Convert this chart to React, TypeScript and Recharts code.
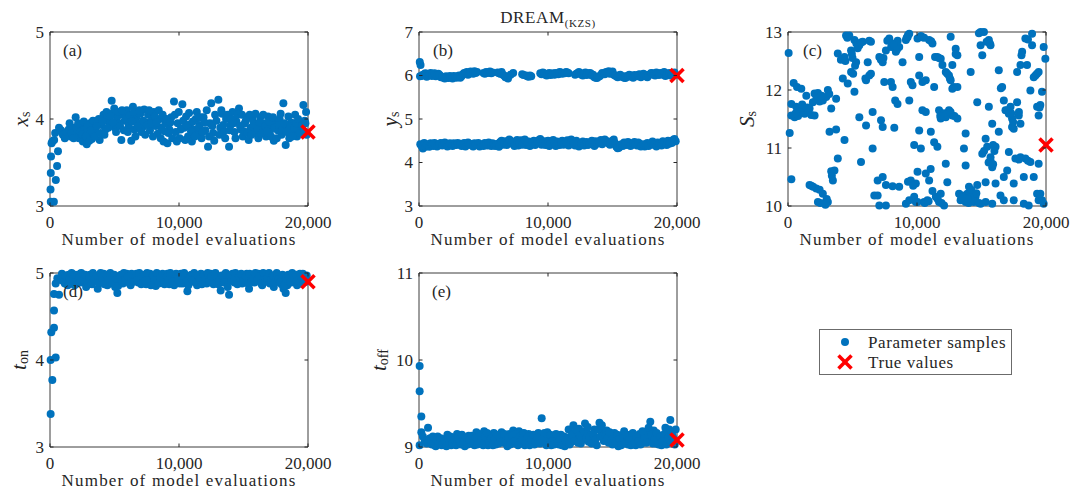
import React from "react";
import { ScatterChart, Scatter, XAxis, YAxis, ReferenceArea } from "recharts";

type Pair = [number, number];

// shared axis
const evalTicks = [0, 10000, 20000];

// (a) x_s
const xsTicks = [3, 4, 5];
const xsSamples: Pair[] = [
  [60, 3.05], [300, 3.05], [40, 3.19], [60, 3.38], [80, 3.57], [120, 3.72], [450, 3.3], [550, 3.46],
  [620, 3.63], [320, 3.76], [400, 3.84], [180, 3.74], [700, 3.9], [850, 3.87], [1000, 3.82], [1150, 3.78],
  [1300, 3.85], [1450, 3.88], [1600, 3.8], [1750, 3.9], [1900, 3.86], [1990, 4.02], [2100, 3.83], [2250, 3.78],
  [2400, 3.92], [2550, 3.74], [2700, 3.88], [2850, 3.71], [3000, 3.82], [3100, 3.95], [3250, 3.77], [3400, 3.9],
  [3550, 3.85], [3700, 3.97], [3850, 3.76], [4000, 3.93], [4150, 4.05], [4300, 3.88], [4450, 4.0], [4600, 3.95],
  [4780, 4.21], [4900, 4.07], [5050, 3.9], [5200, 4.02], [5350, 3.95], [5530, 3.76], [5650, 4.05], [5800, 3.98],
  [5950, 4.1], [6100, 3.92], [6300, 3.75], [6430, 4.14], [6550, 3.88], [6700, 4.02], [6850, 3.95], [7000, 4.06],
  [7150, 3.9], [7300, 4.11], [7450, 3.96], [7600, 4.05], [7750, 3.87], [7900, 3.99], [8050, 4.08], [8200, 3.92],
  [8350, 3.83], [8500, 4.0], [8650, 3.9], [8800, 3.74], [8950, 3.95], [9100, 3.72], [9250, 3.88], [9400, 4.02],
  [9610, 4.2], [9750, 3.85], [9900, 3.95], [10050, 3.78], [10260, 4.17], [10400, 3.9], [10550, 4.03], [10700, 3.8],
  [10850, 3.94], [11000, 3.74], [11150, 3.88], [11300, 4.0], [11450, 3.82], [11600, 3.93], [11750, 3.78], [11900, 4.02],
  [12050, 3.87], [12250, 3.68], [12400, 3.95], [12500, 4.18], [12650, 3.84], [12800, 4.05], [13050, 4.22], [13200, 3.9],
  [13350, 4.06], [13500, 3.86], [13650, 4.0], [13880, 3.68], [14000, 3.93], [14150, 4.08], [14300, 3.85], [14450, 3.97],
  [14650, 4.12], [14800, 3.88], [14950, 3.8], [15100, 3.95], [15250, 4.02], [15400, 3.76], [15550, 3.9], [15700, 4.0],
  [15850, 3.84], [16000, 3.93], [16150, 3.78], [16300, 4.02], [16450, 3.88], [16600, 3.95], [16750, 3.8], [16900, 4.03],
  [17050, 3.86], [17200, 3.92], [17350, 3.75], [17500, 3.95], [17650, 3.87], [17800, 4.0], [17950, 3.82], [18090, 4.18],
  [18270, 3.7], [18400, 3.9], [18550, 3.78], [18700, 3.96], [18850, 3.85], [19000, 4.05], [19150, 3.8], [19300, 3.93],
  [19450, 3.87], [19640, 4.16], [19750, 3.98], [19850, 4.08], [19900, 3.82],
  [1520, 3.95], [1680, 3.84], [1830, 3.78], [2020, 3.9], [2180, 3.95], [2330, 3.85], [2480, 3.82], [2620, 3.97],
  [2780, 3.8], [2930, 3.93], [3050, 3.75], [3180, 3.87], [3330, 3.98], [3480, 3.8], [3620, 3.92], [3780, 4.0],
  [3920, 3.84], [4080, 3.97], [4220, 3.82], [4380, 4.08], [4520, 3.9], [4680, 4.03], [4840, 3.96], [4980, 4.12],
  [5120, 3.85], [5280, 4.08], [5430, 3.92], [5580, 4.1], [5720, 3.87], [5880, 4.0], [6030, 3.85], [6180, 4.04],
  [6370, 3.97], [6500, 4.08], [6620, 3.8], [6780, 3.92], [6930, 4.1], [7080, 3.85], [7220, 3.98], [7380, 3.82],
  [7530, 3.93], [7680, 4.1], [7830, 3.95], [7980, 3.8], [8130, 4.03], [8280, 3.96], [8430, 4.1], [8580, 3.78],
  [8730, 4.05], [8880, 3.86], [9030, 4.0], [9180, 3.84], [9330, 3.96], [9480, 3.78], [9680, 4.05], [9830, 3.74],
  [9980, 4.08], [10130, 3.88], [10330, 3.98], [10480, 3.76], [10630, 3.92], [10780, 4.07], [10930, 3.86], [11080, 3.97],
  [11230, 3.8], [11380, 4.08], [11530, 3.9], [11680, 4.02], [11830, 3.85], [11980, 3.96], [12150, 4.1], [12330, 3.8],
  [12580, 3.92], [12730, 3.75], [12900, 3.98], [13130, 3.82], [13280, 4.1], [13430, 3.93], [13580, 3.78], [13760, 4.05],
  [13930, 3.87], [14080, 4.0], [14230, 3.95], [14380, 3.78], [14550, 4.05], [14730, 3.92], [14880, 4.05], [15030, 3.86],
  [15180, 3.98], [15330, 3.84], [15480, 4.05], [15630, 3.82], [15780, 3.94], [15930, 4.06], [16080, 3.88], [16230, 3.96],
  [16380, 3.83], [16530, 4.05], [16680, 3.92], [16830, 3.86], [16980, 3.97], [17130, 3.8], [17280, 4.02], [17430, 3.9],
  [17580, 3.78], [17730, 3.93], [17880, 4.06], [18030, 3.88], [18180, 3.95], [18340, 3.85], [18480, 4.03], [18630, 3.92],
  [18780, 3.8], [18930, 3.9], [19080, 3.95], [19230, 4.0], [19380, 3.84], [19550, 3.93], [19700, 3.86], [19800, 3.95],
];

// (b) y_s, two modes
const ysTicks = [3, 4, 5, 6, 7];
const ysUpper: Pair[] = [
  [60, 6.31], [120, 6.24], [80, 5.98], [300, 6.02], [500, 6.05], [700, 6.0], [900, 6.06], [1100, 6.03],
  [1300, 5.98], [1500, 6.04], [1700, 5.96], [1900, 5.95], [2100, 5.98], [2300, 5.94], [2500, 5.96], [2700, 5.99],
  [2900, 5.95], [3100, 6.0], [3300, 5.98], [3500, 6.06], [3700, 6.08], [3900, 6.05], [4100, 6.07], [4300, 6.1],
  [4500, 6.08], [5000, 6.06], [5200, 6.08], [5400, 6.07], [5600, 6.05], [6100, 6.07], [6300, 6.04], [6500, 6.02],
  [6700, 5.96], [6900, 5.93], [7100, 6.02], [7300, 6.06], [8000, 6.03], [8300, 6.0], [8500, 5.97], [8700, 5.98],
  [9400, 6.05], [9600, 6.07], [9800, 6.02], [10000, 6.04], [10200, 6.01], [10400, 6.05], [10600, 6.06], [10800, 6.03],
  [11000, 6.07], [11200, 6.06], [11400, 6.08], [11600, 6.05], [12100, 6.02], [12300, 6.06], [12500, 6.04], [12700, 6.0],
  [12900, 6.07], [13100, 6.03], [13300, 6.05], [13500, 6.02], [13700, 5.95], [13900, 5.97], [14100, 6.01], [14300, 6.04],
  [14500, 6.08], [14700, 6.1], [14900, 6.06], [15100, 6.02], [15300, 5.98], [15500, 6.0], [15700, 5.97], [15900, 5.95],
  [16100, 5.99], [16300, 6.02], [16500, 5.97], [16700, 6.01], [16900, 5.98], [17100, 6.03], [17300, 5.99], [17500, 6.02],
  [17700, 5.96], [17900, 6.03], [18100, 6.05], [18300, 6.0], [18500, 6.04], [18700, 6.06], [18900, 6.02], [19100, 5.99],
  [19300, 6.04], [19500, 6.0], [19700, 6.05], [19900, 6.02],
  [200, 5.99], [400, 6.03], [600, 5.97], [800, 6.02], [1000, 5.99], [1200, 6.05], [1400, 6.0], [1600, 6.01],
  [1800, 5.97], [2000, 5.93], [2200, 5.96], [2400, 5.99], [2600, 5.93], [2800, 5.97], [3000, 5.98], [3200, 5.95],
  [3400, 6.03], [3600, 6.05], [3800, 6.02], [4000, 6.09], [4200, 6.04], [4400, 6.06], [5100, 6.04], [5300, 6.06],
  [5500, 6.09], [5700, 6.07], [6200, 6.05], [6400, 6.08], [6600, 6.0], [8100, 6.01], [8400, 5.98], [8600, 6.0],
  [9500, 6.03], [9700, 6.05], [9900, 6.0], [10100, 6.06], [10300, 6.03], [10500, 6.02], [10700, 6.04], [10900, 6.08],
  [11100, 6.04], [11300, 6.05], [11500, 6.07], [12200, 6.04], [12400, 6.08], [12600, 6.02], [12800, 6.05], [13000, 6.01],
  [13200, 6.06], [13400, 6.0], [13600, 5.96], [13800, 5.94], [14000, 5.98], [14200, 6.06], [14400, 6.03], [14600, 6.07],
  [14800, 6.04], [15000, 6.09], [15200, 6.0], [15400, 5.96], [15600, 6.02], [15800, 5.98], [16000, 5.94], [16200, 5.97],
  [16400, 6.0], [16600, 5.95], [16800, 5.99], [17000, 6.02], [17200, 5.96], [17400, 6.04], [17600, 5.98], [17800, 6.0],
  [18000, 6.06], [18200, 6.02], [18400, 6.07], [18600, 6.01], [18800, 6.04], [19000, 6.08], [19200, 6.01], [19400, 6.06],
  [19600, 6.03], [19800, 6.07],
];
const ysLower: Pair[] = [
  [100, 4.42], [300, 4.32], [500, 4.36], [700, 4.4], [900, 4.44], [1100, 4.38], [1300, 4.42], [1500, 4.4],
  [1700, 4.45], [1900, 4.41], [2100, 4.43], [2300, 4.39], [2500, 4.42], [2700, 4.44], [2900, 4.4], [3100, 4.42],
  [3300, 4.38], [3500, 4.45], [3700, 4.41], [3900, 4.43], [4100, 4.39], [4300, 4.44], [4500, 4.4], [4700, 4.37],
  [4900, 4.42], [5100, 4.45], [5300, 4.39], [5500, 4.41], [5700, 4.44], [5900, 4.38], [6100, 4.43], [6300, 4.47],
  [6500, 4.41], [6700, 4.49], [6900, 4.44], [7100, 4.5], [7300, 4.42], [7500, 4.48], [7700, 4.39], [7900, 4.51],
  [8100, 4.45], [8300, 4.4], [8500, 4.48], [8700, 4.43], [8900, 4.5], [9100, 4.46], [9300, 4.52], [9500, 4.41],
  [9700, 4.49], [9900, 4.44], [10100, 4.38], [10300, 4.46], [10500, 4.42], [10700, 4.48], [10900, 4.4], [11100, 4.5],
  [11300, 4.44], [11500, 4.51], [11700, 4.42], [11900, 4.47], [12100, 4.39], [12300, 4.45], [12500, 4.41], [12700, 4.48],
  [12900, 4.43], [13100, 4.4], [13300, 4.46], [13500, 4.42], [13700, 4.49], [13900, 4.45], [14100, 4.52], [14300, 4.47],
  [14500, 4.5], [14700, 4.44], [14900, 4.48], [15100, 4.53], [15300, 4.36], [15500, 4.34], [15700, 4.42], [15900, 4.46],
  [16100, 4.4], [16300, 4.44], [16500, 4.41], [16700, 4.47], [16900, 4.39], [17100, 4.43], [17300, 4.4], [17500, 4.37],
  [17700, 4.45], [17900, 4.42], [18100, 4.48], [18300, 4.4], [18500, 4.46], [18700, 4.43], [18900, 4.49], [19100, 4.45],
  [19300, 4.5], [19500, 4.47], [19700, 4.52], [19900, 4.49],
  [200, 4.38], [400, 4.45], [600, 4.42], [800, 4.36], [1000, 4.41], [1200, 4.45], [1400, 4.37], [1600, 4.43],
  [1800, 4.39], [2000, 4.46], [2200, 4.37], [2400, 4.44], [2600, 4.38], [2800, 4.41], [3000, 4.45], [3200, 4.43],
  [3400, 4.4], [3600, 4.37], [3800, 4.46], [4000, 4.42], [4200, 4.37], [4400, 4.42], [4600, 4.45], [4800, 4.4],
  [5000, 4.38], [5200, 4.42], [5400, 4.46], [5600, 4.38], [5800, 4.42], [6000, 4.4], [6200, 4.36], [6400, 4.5],
  [6600, 4.44], [6800, 4.4], [7000, 4.53], [7200, 4.46], [7400, 4.38], [7600, 4.52], [7800, 4.45], [8000, 4.41],
  [8200, 4.53], [8400, 4.44], [8600, 4.38], [8800, 4.46], [9000, 4.4], [9200, 4.48], [9400, 4.54], [9600, 4.45],
  [9800, 4.4], [10000, 4.5], [10200, 4.43], [10400, 4.52], [10600, 4.38], [10800, 4.44], [11000, 4.47], [11200, 4.41],
  [11400, 4.47], [11600, 4.39], [11800, 4.53], [12000, 4.45], [12200, 4.5], [12400, 4.37], [12600, 4.44], [12800, 4.39],
  [13000, 4.47], [13200, 4.43], [13400, 4.5], [13600, 4.38], [13800, 4.43], [14000, 4.49], [14200, 4.42], [14400, 4.53],
  [14600, 4.46], [14800, 4.41], [15000, 4.5], [15200, 4.44], [15400, 4.33], [15600, 4.4], [15800, 4.38], [16000, 4.43],
  [16200, 4.47], [16400, 4.38], [16600, 4.44], [16800, 4.42], [17000, 4.46], [17200, 4.37], [17400, 4.42], [17600, 4.4],
  [17800, 4.38], [18000, 4.44], [18200, 4.41], [18400, 4.37], [18600, 4.41], [18800, 4.39], [19000, 4.44], [19200, 4.4],
  [19400, 4.43], [19600, 4.45], [19800, 4.54],
];

// (c) S_s
const ssTicks = [10, 11, 12, 13];
const ssSamples: Pair[] = [
  [50, 12.64], [130, 11.26], [260, 11.76], [260, 10.46], [440, 12.12], [1030, 12.02], [1420, 11.9], [640, 11.71],
  [900, 11.62], [1290, 11.59], [1670, 11.68], [1930, 11.79], [2060, 11.94], [2320, 11.95], [2700, 11.82], [2960, 11.88],
  [3090, 12.0], [3730, 11.85], [3350, 11.68], [260, 11.56], [515, 11.53], [2060, 11.56], [780, 11.55], [1160, 11.7],
  [1550, 11.63], [1800, 11.57], [2450, 11.8], [3200, 11.93], [700, 12.05], [1100, 11.75],
  [3220, 11.28], [3730, 11.32], [4380, 11.14], [5660, 10.76],
  [1670, 10.36], [2190, 10.3], [2700, 10.21], [2320, 10.07], [3090, 10.07], [3480, 10.44], [3350, 10.6], [3600, 10.61],
  [3860, 10.82], [2500, 10.05], [1950, 10.33], [2850, 10.05],
  [4250, 12.2], [3860, 12.63], [4380, 12.57], [4500, 12.94], [4890, 12.68], [5150, 12.86], [5280, 12.48], [4890, 12.31],
  [5150, 11.97], [4630, 12.11], [5530, 12.77], [5790, 12.83], [6430, 12.83], [6050, 12.17], [6430, 12.28], [6180, 12.48],
  [4750, 12.94], [4100, 12.52], [5000, 12.55], [5400, 12.72], [5050, 12.28],
  [5530, 11.53], [6050, 11.39], [6560, 11.62], [6560, 10.99],
  [7080, 12.57], [7340, 12.48], [7460, 12.14], [7210, 11.48], [7340, 11.36], [7590, 12.68], [7850, 12.89], [8110, 12.8],
  [8360, 12.66], [8620, 12.74], [7980, 12.14], [8110, 12.05], [8310, 11.82], [8490, 11.76], [8240, 11.35], [6950, 10.44],
  [7340, 10.5], [6690, 10.18], [6950, 10.18], [7080, 10.01], [7590, 10.01], [7590, 10.36], [8110, 10.34], [8620, 10.33],
  [7200, 12.52], [8000, 12.74], [8500, 12.85],
  [8880, 12.48], [9140, 12.86], [9400, 12.97], [9270, 12.91], [9520, 12.14], [9650, 12.08], [9400, 11.82], [9780, 11.05],
  [10300, 10.99], [9780, 10.16], [9520, 10.44], [9910, 10.39], [9140, 10.04], [9400, 10.1], [9910, 10.07], [10040, 10.59],
  [9300, 12.95],
  [10170, 12.25], [10420, 12.14], [10680, 12.17], [10170, 12.57], [10040, 12.89], [10420, 12.91], [10420, 11.65], [10680, 11.62],
  [10170, 11.3], [10040, 10.07], [10550, 10.07], [10810, 10.1], [10680, 10.56], [10940, 10.44], [11060, 10.64],
  [10940, 12.86], [11200, 12.8], [11330, 12.05], [11580, 12.57], [11840, 12.54], [11710, 11.65], [11970, 11.59], [11840, 11.51],
  [12230, 11.53], [12480, 11.65], [12740, 11.56], [13130, 11.51], [11970, 12.43], [12230, 12.31], [12480, 12.25], [12610, 12.17],
  [12740, 12.02], [13130, 12.05], [12610, 12.92], [13000, 12.71], [13130, 12.6], [12740, 12.43], [11100, 12.84], [12100, 11.6],
  [11070, 11.28], [11330, 11.1], [11580, 11.02], [12230, 10.73], [12350, 10.41], [11840, 10.21], [11460, 10.16], [11710, 10.07],
  [12100, 10.01], [11200, 10.26],
  [13640, 10.99], [13770, 11.25], [13770, 10.7], [13260, 10.21], [13380, 10.1], [13640, 10.16], [13900, 10.21], [14160, 10.13],
  [14410, 10.07], [14030, 10.33], [14290, 10.18], [14670, 10.36], [13770, 10.07], [14540, 10.16], [13500, 10.18], [14000, 10.05],
  [14200, 10.28],
  [14160, 12.31], [14670, 11.79], [14930, 13.0], [15190, 13.0], [14930, 12.77], [15060, 12.6], [15570, 12.86], [15700, 12.77],
  [15570, 11.71], [15830, 11.42], [15320, 11.16], [15440, 11.02], [15060, 10.9], [15700, 10.84], [15830, 10.67], [16090, 11.02],
  [15320, 10.41], [16090, 10.39], [15320, 10.07], [15830, 10.04], [14930, 10.04], [15200, 10.95], [15550, 10.75],
  [16340, 12.34], [16600, 12.05], [16730, 11.82], [16860, 11.65], [16340, 11.28], [16470, 10.18], [16730, 10.1], [16730, 10.5],
  [16990, 10.61], [17120, 11.59], [17250, 11.71], [17370, 11.51], [17500, 11.33], [17120, 10.93], [17500, 10.1], [17500, 10.39],
  [17370, 11.36], [16500, 12.03], [17000, 11.65],
  [17760, 12.31], [18020, 12.43], [18150, 12.66], [18400, 12.89], [18530, 12.43], [17760, 11.79], [17890, 11.56], [18020, 11.42],
  [17630, 10.82], [18020, 10.84], [18400, 10.82], [18790, 10.76], [18280, 10.5], [19050, 10.5], [18280, 10.04], [18660, 10.01],
  [18920, 12.97], [18920, 12.77], [19050, 12.22], [19180, 12.25], [19430, 12.31], [18790, 11.99], [19310, 11.71], [19560, 11.74],
  [19430, 11.56], [19430, 10.73], [19310, 10.21], [19430, 10.1], [19690, 10.1], [19690, 11.97], [19820, 12.74], [19950, 12.54],
  [19820, 10.04], [19560, 10.21],
  [4600, 12.9], [4950, 12.62], [5300, 12.8], [5650, 12.82], [6300, 12.85], [4450, 12.5], [5200, 12.42], [7700, 12.85],
  [8200, 12.78], [8450, 12.7], [7400, 12.55], [9200, 12.9], [10300, 12.93], [10550, 12.9], [11400, 12.57], [11700, 12.55],
  [12350, 12.28], [12550, 12.2], [12850, 12.05], [13000, 12.62], [11800, 11.55], [12300, 11.58], [12600, 11.62], [12900, 11.55],
  [14800, 12.98], [15400, 12.83], [15650, 12.8], [17300, 11.6], [17450, 11.45], [17900, 11.62], [18100, 12.6], [18600, 12.87],
  [19300, 12.28], [19500, 11.7], [14100, 10.15], [14350, 10.1], [13900, 10.12], [14600, 10.22], [13450, 10.15], [14800, 10.05],
  [15700, 10.78], [15900, 10.72], [15900, 11.05], [16000, 10.95], [17900, 10.8], [18600, 10.78], [3000, 10.12], [2450, 10.28],
  [1800, 10.35], [3400, 10.52], [600, 11.6], [1500, 11.7], [2200, 11.85], [2600, 11.9], [9300, 10.42], [9700, 10.35],
  [10600, 10.05], [10900, 10.08], [11600, 10.12], [11900, 10.05], [2900, 10.02], [7200, 12.55], [6000, 12.2], [6300, 12.25],
];

// (d) t_on
const tonTicks = [3, 4, 5];
const tonSamples: Pair[] = [
  [50, 3.38], [180, 3.77], [50, 4.0], [440, 4.03], [100, 4.32], [310, 4.37], [310, 4.57], [310, 4.76],
  [700, 4.75], [440, 4.88], [570, 4.94],
  [850, 4.92], [1000, 4.96], [1150, 4.88], [1300, 4.94], [1450, 4.98], [1600, 4.9], [1750, 4.95], [1900, 4.86],
  [2050, 4.97], [2200, 4.92], [2350, 4.99], [2500, 4.89], [2650, 4.95], [2800, 4.84], [2950, 4.93], [3100, 4.98],
  [3250, 4.87], [3400, 4.95], [3550, 4.91], [3700, 4.82], [3850, 4.96], [4000, 4.89], [4150, 4.99], [4300, 4.93],
  [4450, 4.86], [4600, 4.97], [4750, 4.9], [4900, 4.95], [5050, 4.84], [5220, 4.77], [5350, 4.92], [5500, 4.98],
  [5650, 4.88], [5800, 4.95], [5950, 4.99], [6100, 4.91], [6250, 4.86], [6400, 4.96], [6550, 4.93], [6700, 4.99],
  [6850, 4.89], [7000, 4.95], [7150, 4.92], [7300, 4.98], [7450, 4.87], [7600, 4.94], [7750, 4.99], [7900, 4.9],
  [8050, 4.96], [8200, 4.85], [8350, 4.93], [8500, 4.98], [8650, 4.89], [8800, 4.95], [8950, 4.91], [9100, 4.99],
  [9250, 4.87], [9400, 4.94], [9550, 4.97], [9700, 4.9], [9850, 4.96], [10000, 4.92], [10150, 4.99], [10300, 4.88],
  [10500, 4.95], [10650, 4.79], [10800, 4.93], [10950, 4.98], [11100, 4.9], [11250, 4.96], [11400, 4.86], [11550, 4.94],
  [11700, 4.99], [11850, 4.91], [12000, 4.97], [12150, 4.88], [12300, 4.95], [12450, 4.99], [12600, 4.9], [12750, 4.96],
  [12900, 4.93], [13050, 4.87], [13230, 4.8], [13400, 4.95], [13550, 4.98], [13700, 4.9], [13880, 4.75], [14000, 4.94],
  [14150, 4.99], [14300, 4.89], [14450, 4.96], [14600, 4.92], [14750, 4.98], [14900, 4.88], [15050, 4.95], [15250, 4.99],
  [15430, 4.82], [15550, 4.93], [15700, 4.97], [15850, 4.89], [16000, 4.95], [16150, 4.99], [16300, 4.91], [16450, 4.86],
  [16600, 4.96], [16750, 4.92], [16900, 4.98], [17050, 4.88], [17200, 4.94], [17350, 4.84], [17500, 4.97], [17650, 4.9],
  [17800, 4.95], [17950, 4.87], [18100, 4.82], [18270, 4.77], [18400, 4.86], [18550, 4.93], [18700, 4.89], [18850, 4.96],
  [19000, 4.91], [19150, 4.86], [19300, 4.95], [19450, 4.88], [19600, 4.99], [19750, 4.92], [19900, 4.97],
  [925, 4.99], [1075, 4.9], [1225, 4.97], [1375, 4.86], [1525, 4.93], [1675, 5.0], [1825, 4.93], [1975, 4.98],
  [2125, 4.88], [2275, 4.95], [2425, 5.0], [2575, 4.92], [2725, 4.98], [2875, 4.9], [3025, 4.96], [3175, 4.88],
  [3325, 5.0], [3475, 4.92], [3625, 4.97], [3775, 4.89], [3925, 5.0], [4075, 4.94], [4225, 4.87], [4375, 4.98],
  [4525, 4.92], [4675, 5.0], [4825, 4.88], [4975, 4.98], [5125, 4.93], [5275, 4.85], [5425, 4.96], [5575, 4.9],
  [5725, 5.0], [5875, 4.92], [6025, 4.96], [6175, 4.88], [6325, 4.99], [6475, 4.9], [6625, 4.96], [6775, 4.92],
  [6925, 5.0], [7075, 4.87], [7225, 4.96], [7375, 4.91], [7525, 5.0], [7675, 4.92], [7825, 4.86], [7975, 4.97],
  [8125, 4.92], [8275, 5.0], [8425, 4.88], [8575, 4.95], [8725, 4.99], [8875, 4.87], [9025, 4.96], [9175, 4.92],
  [9325, 5.0], [9475, 4.9], [9625, 4.86], [9775, 4.99], [9925, 4.93], [10075, 4.88], [10225, 4.97], [10400, 5.0],
  [10575, 4.9], [10725, 4.86], [10875, 4.95], [11025, 4.92], [11175, 5.0], [11325, 4.9], [11475, 4.97], [11625, 4.93],
  [11775, 4.87], [11925, 4.98], [12075, 4.93], [12225, 5.0], [12375, 4.91], [12525, 4.96], [12675, 4.87], [12825, 5.0],
  [12975, 4.95], [13150, 4.91], [13325, 4.97], [13475, 4.89], [13625, 5.0], [13775, 4.84], [13950, 4.97], [14075, 4.91],
  [14225, 4.96], [14375, 5.0], [14525, 4.87], [14675, 4.95], [14825, 4.99], [14975, 4.91], [15150, 4.96], [15350, 4.88],
  [15475, 4.99], [15625, 4.9], [15775, 4.95], [15925, 5.0], [16075, 4.92], [16225, 4.96], [16375, 4.88], [16525, 5.0],
  [16675, 4.9], [16825, 4.94], [16975, 5.0], [17125, 4.91], [17275, 4.97], [17425, 4.89], [17575, 5.0], [17725, 4.93],
  [17875, 4.9], [18025, 4.98], [18175, 4.86], [18325, 4.93], [18475, 4.98], [18625, 4.9], [18775, 5.0], [18925, 4.94],
  [19075, 4.98], [19225, 4.91], [19375, 4.99], [19525, 4.93], [19675, 4.96], [19825, 4.9],
];

// (e) t_off
const toffTicks = [9, 10, 11];
const toffSamples: Pair[] = [
  [50, 9.93], [50, 9.64], [180, 9.35], [180, 9.17], [700, 9.22], [50, 9.02], [440, 9.08], [300, 9.12], [600, 9.04],
  [850, 9.1], [1000, 9.03], [1150, 9.07], [1300, 9.01], [1450, 9.12], [1600, 9.05], [1750, 9.02], [1900, 9.09],
  [2050, 9.04], [2200, 9.14], [2350, 9.06], [2500, 9.02], [2650, 9.11], [2800, 9.05], [2950, 9.15], [3100, 9.08],
  [3250, 9.03], [3400, 9.1], [3550, 9.01], [3700, 9.06], [3850, 9.13], [4000, 9.04], [4150, 9.09], [4300, 9.02],
  [4450, 9.17], [4600, 9.07], [4750, 9.12], [4900, 9.04], [5050, 9.18], [5200, 9.09], [5350, 9.02], [5500, 9.14],
  [5650, 9.06], [5800, 9.16], [5950, 9.03], [6100, 9.11], [6250, 9.07], [6400, 9.17], [6550, 9.05], [6700, 9.12],
  [6850, 9.01], [7000, 9.15], [7150, 9.08], [7300, 9.19], [7450, 9.04], [7600, 9.1], [7750, 9.18], [7900, 9.06],
  [8050, 9.13], [8200, 9.02], [8350, 9.09], [8500, 9.15], [8650, 9.05], [8800, 9.11], [8950, 9.03], [9100, 9.08],
  [9250, 9.16], [9510, 9.33], [9650, 9.12], [9800, 9.05], [9950, 9.17], [10100, 9.09], [10250, 9.02], [10400, 9.13],
  [10550, 9.06], [10700, 9.1], [10850, 9.03], [11000, 9.14], [11150, 9.07], [11300, 9.01], [11450, 9.11], [11600, 9.2],
  [11750, 9.05], [11970, 9.25], [12100, 9.16], [12250, 9.09], [12400, 9.21], [12550, 9.04], [12700, 9.12], [12870, 9.27],
  [13000, 9.18], [13150, 9.06], [13300, 9.14], [13450, 9.08], [13600, 9.2], [13780, 9.02], [13990, 9.28], [14100, 9.22],
  [14250, 9.15], [14400, 9.09], [14550, 9.19], [14700, 9.05], [14850, 9.12], [15000, 9.03], [15150, 9.16], [15300, 9.08],
  [15450, 9.01], [15600, 9.13], [15750, 9.06], [15900, 9.18], [16050, 9.1], [16200, 9.03], [16350, 9.14], [16500, 9.07],
  [16650, 9.11], [16800, 9.02], [16950, 9.09], [17100, 9.15], [17250, 9.04], [17400, 9.12], [17550, 9.07], [17700, 9.17],
  [17930, 9.29], [18050, 9.1], [18200, 9.19], [18350, 9.04], [18500, 9.14], [18650, 9.07], [18800, 9.02], [18950, 9.12],
  [19100, 9.22], [19250, 9.05], [19480, 9.31], [19600, 9.16], [19750, 9.09], [19900, 9.2],
  [925, 9.05], [1075, 9.12], [1225, 9.02], [1375, 9.08], [1525, 9.04], [1675, 9.1], [1825, 9.03], [1975, 9.06],
  [2125, 9.01], [2275, 9.09], [2425, 9.12], [2575, 9.04], [2725, 9.08], [2875, 9.02], [3025, 9.11], [3175, 9.05],
  [3325, 9.14], [3475, 9.06], [3625, 9.11], [3775, 9.03], [3925, 9.08], [4075, 9.13], [4225, 9.05], [4375, 9.11],
  [4525, 9.03], [4675, 9.15], [4825, 9.08], [4975, 9.02], [5125, 9.12], [5275, 9.16], [5425, 9.05], [5575, 9.1],
  [5725, 9.02], [5875, 9.09], [6025, 9.14], [6175, 9.04], [6325, 9.1], [6475, 9.06], [6625, 9.15], [6775, 9.08],
  [6925, 9.11], [7075, 9.03], [7225, 9.13], [7375, 9.07], [7525, 9.15], [7675, 9.02], [7825, 9.12], [7975, 9.09],
  [8125, 9.16], [8275, 9.05], [8425, 9.12], [8575, 9.02], [8725, 9.08], [8875, 9.14], [9025, 9.06], [9175, 9.11],
  [9375, 9.04], [9575, 9.09], [9725, 9.16], [9875, 9.02], [10025, 9.11], [10175, 9.14], [10325, 9.07], [10475, 9.03],
  [10625, 9.15], [10775, 9.05], [10925, 9.09], [11075, 9.02], [11225, 9.12], [11375, 9.06], [11525, 9.1], [11675, 9.03],
  [11850, 9.14], [12025, 9.07], [12175, 9.2], [12325, 9.05], [12475, 9.13], [12625, 9.08], [12775, 9.18], [12950, 9.1],
  [13075, 9.23], [13225, 9.11], [13375, 9.04], [13525, 9.15], [13700, 9.09], [13875, 9.2], [14050, 9.12], [14175, 9.25],
  [14325, 9.07], [14475, 9.13], [14625, 9.1], [14775, 9.17], [14925, 9.07], [15075, 9.11], [15225, 9.05], [15375, 9.14],
  [15525, 9.09], [15675, 9.02], [15825, 9.1], [15975, 9.05], [16125, 9.13], [16275, 9.08], [16425, 9.02], [16575, 9.16],
  [16725, 9.05], [16875, 9.12], [17025, 9.07], [17175, 9.03], [17325, 9.18], [17475, 9.1], [17625, 9.05], [17800, 9.22],
  [18000, 9.14], [18125, 9.04], [18275, 9.1], [18425, 9.16], [18575, 9.03], [18725, 9.12], [18875, 9.06], [19025, 9.15],
  [19175, 9.03], [19325, 9.1], [19400, 9.2], [19525, 9.05], [19675, 9.12], [19825, 9.03],
];

// true parameter values (x = last evaluation)
const trueValues: Record<string, Pair> = {
  xs: [20000, 3.85],
  ys: [20000, 6.0],
  ss: [20000, 11.05],
  ton: [20000, 4.9],
  toff: [20000, 9.08],
};

const FONT = "'Liberation Serif', 'Times New Roman', serif";
const INK = "#262626";
const BLUE = "#0072BD";
const RED = "#FF0000";

const PLOT_W = 258;
const PLOT_H = 174;
const AXIS_W = 60;
const AXIS_H = 50;
const M_TOP = 12;
const M_RIGHT = 32;

const toPoints = (pairs: Pair[]) => pairs.map(([x, y]) => ({ x, y }));

const Dot = (p: any) =>
  p.cx == null ? null : <circle cx={p.cx} cy={p.cy} r={4} fill={BLUE} />;

const Cross = (p: any) => {
  if (p.cx == null) return null;
  const s = 6.5;
  return (
    <g stroke={RED} strokeWidth={3.6}>
      <line x1={p.cx - s} y1={p.cy - s} x2={p.cx + s} y2={p.cy + s} />
      <line x1={p.cx - s} y1={p.cy + s} x2={p.cx + s} y2={p.cy - s} />
    </g>
  );
};

const XTick = (props: any) => {
  const { x, y, payload } = props;
  return (
    <g>
      <line x1={x} y1={y} x2={x} y2={y - 3.5} stroke={INK} />
      <line x1={x} y1={y - PLOT_H} x2={x} y2={y - PLOT_H + 3.5} stroke={INK} />
      <text x={x} y={y + 16} textAnchor="middle" dominantBaseline="central" fontFamily={FONT} fontSize={17} fill={INK}>
        {Number(payload.value).toLocaleString("en-US")}
      </text>
    </g>
  );
};

const YTick = (props: any) => {
  const { x, y, payload } = props;
  return (
    <g>
      <line x1={x} y1={y} x2={x + 3.5} y2={y} stroke={INK} />
      <line x1={x + PLOT_W} y1={y} x2={x + PLOT_W - 3.5} y2={y} stroke={INK} />
      <text x={x - 6} y={y} textAnchor="end" dominantBaseline="central" fontFamily={FONT} fontSize={17} fill={INK}>
        {payload.value}
      </text>
    </g>
  );
};

const xLabel = () => (
  <text
    x={AXIS_W + PLOT_W / 2}
    y={M_TOP + PLOT_H + 33}
    textAnchor="middle"
    dominantBaseline="central"
    fontFamily={FONT}
    fontSize={17}
    letterSpacing={1.2}
    fill={INK}
  >
    Number of model evaluations
  </text>
);

const yLabel = (symbol: string, sub: string, gap: number) => () => {
  const cx = AXIS_W - gap;
  const cy = M_TOP + PLOT_H / 2;
  return (
    <text
      x={cx}
      y={cy}
      transform={`rotate(-90 ${cx} ${cy})`}
      textAnchor="middle"
      dominantBaseline="central"
      fontFamily={FONT}
      fontSize={21}
      fill={INK}
    >
      <tspan fontStyle="italic">{symbol}</tspan>
      <tspan fontSize={14} dy={4}>{sub}</tspan>
    </text>
  );
};

type PanelProps = {
  left: number;
  top: number;
  series: Pair[][];
  truth: Pair;
  yDomain: [number, number];
  yTicks: number[];
  symbol: string;
  sub: string;
  gap: number;
};

const Panel = ({ left, top, series, truth, yDomain, yTicks, symbol, sub, gap }: PanelProps) => (
  <div style={{ position: "absolute", left: left - AXIS_W, top: top - M_TOP }}>
    <ScatterChart
      width={AXIS_W + PLOT_W + M_RIGHT}
      height={M_TOP + PLOT_H + AXIS_H}
      margin={{ top: M_TOP, right: M_RIGHT, bottom: 0, left: 0 }}
    >
      <XAxis
        type="number"
        dataKey="x"
        domain={[0, 20000]}
        ticks={evalTicks}
        interval={0}
        tickSize={0}
        tickMargin={0}
        axisLine={false}
        tickLine={false}
        tick={XTick}
        height={AXIS_H}
        label={{ content: xLabel }}
      />
      <YAxis
        type="number"
        dataKey="y"
        domain={yDomain}
        ticks={yTicks}
        interval={0}
        tickSize={0}
        tickMargin={0}
        axisLine={false}
        tickLine={false}
        tick={YTick}
        width={AXIS_W}
        label={{ content: yLabel(symbol, sub, gap) }}
      />
      <ReferenceArea x1={0} x2={20000} y1={yDomain[0]} y2={yDomain[1]} fill="none" stroke={INK} strokeWidth={0.9} />
      {series.map((s, i) => (
        <Scatter key={i} data={toPoints(s)} shape={Dot} isAnimationActive={false} />
      ))}
      <Scatter data={toPoints([truth])} shape={Cross} isAnimationActive={false} />
    </ScatterChart>
  </div>
);

const textStyle = { fontFamily: FONT, fill: INK } as const;

export default function App() {
  return (
    <div style={{ position: "absolute", left: 0, top: 0, width: 1086, height: 493, background: "#fff", overflow: "hidden" }}>
      <Panel left={49.5} top={31.7} series={[xsSamples]} truth={trueValues.xs} yDomain={[3, 5]} yTicks={xsTicks} symbol="x" sub="s" gap={29} />
      <Panel left={419} top={31.7} series={[ysUpper, ysLower]} truth={trueValues.ys} yDomain={[3, 7]} yTicks={ysTicks} symbol="y" sub="s" gap={29} />
      <Panel left={788} top={31.7} series={[ssSamples]} truth={trueValues.ss} yDomain={[10, 13]} yTicks={ssTicks} symbol="S" sub="s" gap={41} />
      <Panel left={49.5} top={273} series={[tonSamples]} truth={trueValues.ton} yDomain={[3, 5]} yTicks={tonTicks} symbol="t" sub="on" gap={31} />
      <Panel left={419} top={273} series={[toffSamples]} truth={trueValues.toff} yDomain={[9, 11]} yTicks={toffTicks} symbol="t" sub="off" gap={40} />

      <svg width={1086} height={493} style={{ position: "absolute", left: 0, top: 0, pointerEvents: "none" }}>
        <text x={548} y={23} textAnchor="middle" fontSize={17} letterSpacing={0.6} {...textStyle}>
          DREAM
          <tspan fontSize={11} dy={4}>(KZS)</tspan>
        </text>
        <text x={63} y={56} fontSize={17} {...textStyle}>(a)</text>
        <text x={433} y={56} fontSize={17} {...textStyle}>(b)</text>
        <text x={803} y={56} fontSize={17} {...textStyle}>(c)</text>
        <text x={63} y={297} fontSize={17} {...textStyle}>(d)</text>
        <text x={432} y={297} fontSize={17} {...textStyle}>(e)</text>

        <rect x={819.5} y={329.5} width={192} height={45} fill="#fff" stroke="#6b6b6b" strokeWidth={1} />
        <circle cx={845} cy={342} r={4} fill={BLUE} />
        <g stroke={RED} strokeWidth={3.6}>
          <line x1={838.5} y1={355.5} x2={851.5} y2={368.5} />
          <line x1={838.5} y1={368.5} x2={851.5} y2={355.5} />
        </g>
        <text x={868} y={342} dominantBaseline="central" fontSize={17} letterSpacing={0.6} {...textStyle}>Parameter samples</text>
        <text x={868} y={362} dominantBaseline="central" fontSize={17} letterSpacing={0.6} {...textStyle}>True values</text>
      </svg>
    </div>
  );
}
